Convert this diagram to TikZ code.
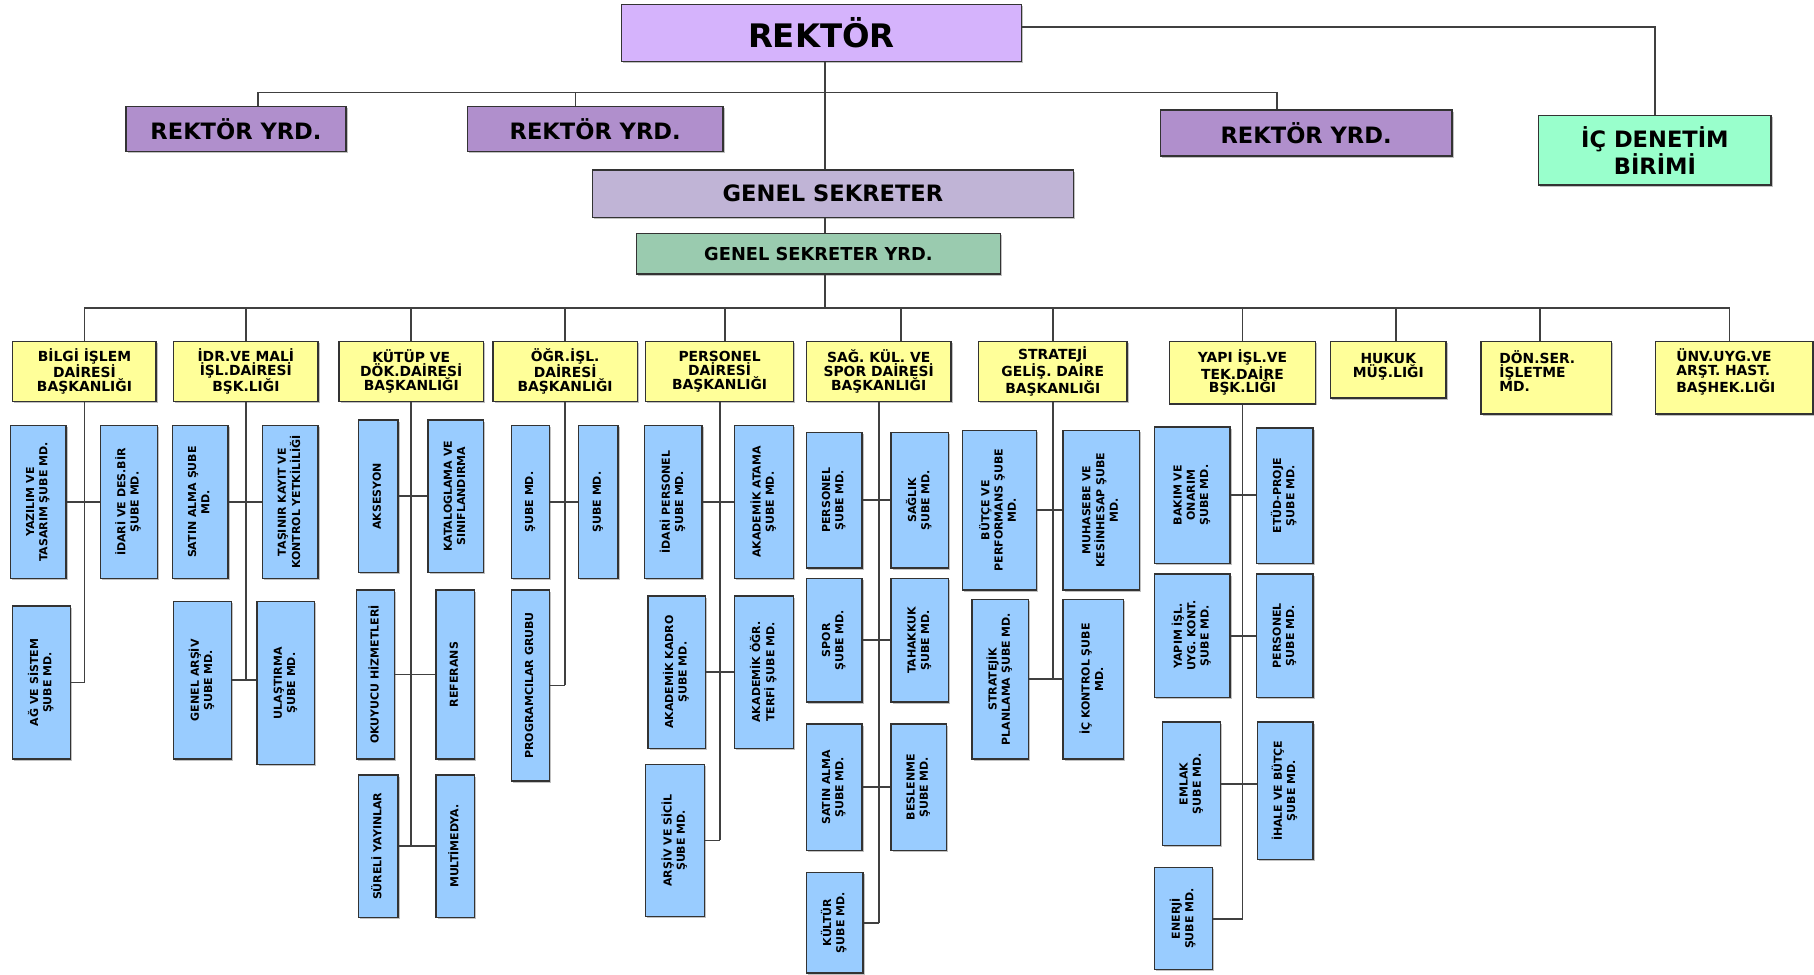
\documentclass[tikz,border=0pt]{standalone}
\usepackage{fontspec}
\setmainfont{DejaVu Sans}
\usepackage{graphicx}
\usepackage{tikz}
\usetikzlibrary{shadows}
\definecolor{rekcol}{HTML}{D5B3FC}
\definecolor{yrdcol}{HTML}{B08FCC}
\definecolor{iccol}{HTML}{99FFCC}
\definecolor{gscol}{HTML}{C0B4D6}
\definecolor{gsycol}{HTML}{9ACBAF}
\definecolor{dairecol}{HTML}{FFFF99}
\definecolor{subecol}{HTML}{99CCFF}
\newcommand{\vtext}[1]{\rotatebox{90}{\begin{tabular}{@{}c@{}}#1\end{tabular}}}

\begin{document}
\begin{tikzpicture}[x=1pt,y=-1pt,
  every node/.style={inner sep=1pt},
  box/.style={draw=black!80, line width=1.3pt, drop shadow={shadow xshift=1.5pt,shadow yshift=-1.5pt,fill=black!40,opacity=0.6}},
  ustbox/.style={box, align=center},
  dairebox/.style={box, fill=dairecol, align=center, minimum height=52pt, font=\fontsize{12}{12}\selectfont\bfseries},
  subebox/.style={box, fill=subecol, font=\fontsize{9.5}{11.5}\selectfont\bfseries},
  baglanti/.style={draw=black!75, line width=1.6pt}]
\useasboundingbox[fill=white] (0,0) rectangle (1568,842);

\node[ustbox, fill=rekcol, minimum width=346pt, minimum height=49pt, font=\fontsize{28}{30}\selectfont\bfseries] (rek) at (710,28.5) {REKTÖR};
\node[ustbox, fill=yrdcol, minimum width=190pt, minimum height=39pt, font=\fontsize{19.5}{22}\selectfont\bfseries] (ry1) at (204,111.5) {REKTÖR YRD.};
\node[ustbox, fill=yrdcol, minimum width=221pt, minimum height=39pt, font=\fontsize{19.5}{22}\selectfont\bfseries] (ry2) at (514.5,111.5) {REKTÖR YRD.};
\node[ustbox, fill=yrdcol, minimum width=252pt, minimum height=40pt, font=\fontsize{19.5}{22}\selectfont\bfseries] (ry3) at (1129,115) {REKTÖR YRD.};
\node[ustbox, fill=iccol, minimum width=201pt, minimum height=60pt, font=\fontsize{19.5}{23}\selectfont\bfseries] (ic) at (1430.5,130) {İÇ DENETİM\\BİRİMİ};
\node[ustbox, fill=gscol, minimum width=416pt, minimum height=41pt, font=\fontsize{19.5}{22}\selectfont\bfseries] (gs) at (720,167.5) {GENEL SEKRETER};
\node[ustbox, fill=gsycol, minimum width=315pt, minimum height=35pt, font=\fontsize{15.4}{18}\selectfont\bfseries] (gsy) at (707.5,219.5) {GENEL SEKRETER YRD.};

\coordinate (ybus) at (713,80);
\coordinate (bus) at (713,266);
\draw[baglanti] ([yshift=5pt]rek.east) -| (ic.north);
\draw[baglanti] (bus |- rek.south) -- (bus |- gs.north);
\draw[baglanti] (bus |- gs.south) -- (bus |- gsy.north);
\draw[baglanti] (bus |- gsy.south) -- (bus);
\draw[baglanti] ([xshift=19pt]ry1.north) -- ([xshift=19pt]ry1.north |- ybus) -| ([xshift=-25pt]ry3.north);
\draw[baglanti] ([xshift=-17pt]ry2.north) -- ([xshift=-17pt]ry2.north |- ybus);

\node[dairebox, minimum width=124pt] (d1) at (73,321) {BİLGİ İŞLEM\\DAİRESİ\\BAŞKANLIĞI};
\node[dairebox, minimum width=125pt] (d2) at (212.5,321) {İDR.VE MALİ\\İŞL.DAİRESİ\\BŞK.LIĞI};
\node[dairebox, minimum width=125pt] (d3) at (355.5,321) {KÜTÜP VE\\DÖK.DAİRESİ\\BAŞKANLIĞI};
\node[dairebox, minimum width=125pt] (d4) at (488.5,321) {ÖĞR.İŞL.\\DAİRESİ\\BAŞKANLIĞI};
\node[dairebox, minimum width=128pt] (d5) at (622,321) {PERSONEL\\DAİRESİ\\BAŞKANLIĞI};
\node[dairebox, minimum width=125pt] (d6) at (759.5,321) {SAĞ. KÜL. VE\\SPOR DAİRESİ\\BAŞKANLIĞI};
\node[dairebox, minimum width=128pt] (d7) at (910,321) {STRATEJİ\\GELİŞ. DAİRE\\BAŞKANLIĞI};
\node[dairebox, minimum width=126pt, minimum height=54pt] (d8) at (1074,322) {YAPI İŞL.VE\\TEK.DAİRE\\BŞK.LIĞI};
\node[dairebox, minimum width=100pt, minimum height=49pt, text depth=8pt] (d9) at (1200,319.5) {HUKUK\\MÜŞ.LIĞI};
\node[dairebox, align=left, text width=81pt, inner xsep=16pt, minimum height=63pt] (d10) at (1336.5,326.5) {DÖN.SER.\\İŞLETME\\MD.\\\mbox{}};
\node[dairebox, align=left, text width=100pt, inner xsep=18pt, minimum height=63pt] (d11) at (1499,326.5) {ÜNV.UYG.VE\\ARŞT. HAST.\\BAŞHEK.LIĞI\\\mbox{}};

\draw[baglanti] (d1.north |- bus) -- ([xshift=-4pt]d11.north |- bus);
\draw[baglanti] (d1.north) -- (d1.north |- bus);
\draw[baglanti] (d2.north) -- (d2.north |- bus);
\draw[baglanti] (d3.north) -- (d3.north |- bus);
\draw[baglanti] (d4.north) -- (d4.north |- bus);
\draw[baglanti] ([xshift=5pt]d5.north) -- ([xshift=5pt]d5.north |- bus);
\draw[baglanti] ([xshift=19.5pt]d6.north) -- ([xshift=19.5pt]d6.north |- bus);
\draw[baglanti] (d7.north) -- (d7.north |- bus);
\draw[baglanti] (d8.north) -- (d8.north |- bus);
\draw[baglanti] ([xshift=7pt]d9.north) -- ([xshift=7pt]d9.north |- bus);
\draw[baglanti] ([xshift=-5pt]d10.north) -- ([xshift=-5pt]d10.north |- bus);
\draw[baglanti] ([xshift=-4pt]d11.north) -- ([xshift=-4pt]d11.north |- bus);

\node[subebox, minimum width=48pt, minimum height=132pt] (s1a) at (33,434) {\vtext{YAZILIM VE\\TASARIM ŞUBE MD.}};
\node[subebox, minimum width=49pt, minimum height=132pt] (s1b) at (111.5,434) {\vtext{İDARİ VE DES.BİR\\ŞUBE MD.}};
\node[subebox, minimum width=50pt, minimum height=132pt] (s1c) at (36,590) {\vtext{AĞ VE SİSTEM\\ŞUBE MD.}};
\draw[baglanti] (d1.south) -- (d1.south |- s1c.east);
\draw[baglanti] (s1a.east) -- (s1a.east -| s1b.west);
\draw[baglanti] (s1c.east) -- (s1c.east -| d1.south);

\node[subebox, minimum width=48pt, minimum height=132pt] (s2a) at (173,434) {\vtext{SATIN ALMA ŞUBE\\MD.}};
\node[subebox, minimum width=48pt, minimum height=132pt] (s2b) at (251,434) {\vtext{TAŞINIR KAYIT VE\\KONTROL YETKİLİLİĞİ}};
\node[subebox, minimum width=50pt, minimum height=136pt] (s2c) at (175,588) {\vtext{GENEL ARŞİV\\ŞUBE MD.}};
\node[subebox, minimum width=50pt, minimum height=141pt] (s2d) at (247,590.5) {\vtext{ULAŞTIRMA\\ŞUBE MD.}};
\draw[baglanti] (d2.south) -- (d2.south |- s2c.east);
\draw[baglanti] (s2a.east) -- (s2a.east -| s2b.west);
\draw[baglanti] (s2c.east) -- (s2c.east -| s2d.west);

\node[subebox, minimum width=34pt, minimum height=132pt] (s3a) at (327,429) {\vtext{AKSESYON}};
\node[subebox, minimum width=48pt, minimum height=132pt] (s3b) at (394,429) {\vtext{KATALOGLAMA VE\\SINIFLANDIRMA}};
\node[subebox, minimum width=33pt, minimum height=146pt] (s3c) at (324.5,583) {\vtext{OKUYUCU HİZMETLERİ}};
\node[subebox, minimum width=33pt, minimum height=146pt] (s3d) at (393.5,583) {\vtext{REFERANS}};
\node[subebox, minimum width=34pt, minimum height=123pt] (s3e) at (327,731.5) {\vtext{SÜRELİ YAYINLAR}};
\node[subebox, minimum width=33pt, minimum height=123pt] (s3f) at (393.5,731.5) {\vtext{MULTİMEDYA.}};
\draw[baglanti] (d3.south) -- (d3.south |- s3e.east);
\draw[baglanti] (s3a.east) -- (s3a.east -| s3b.west);
\draw[baglanti] (s3c.east) -- (s3c.east -| s3d.west);
\draw[baglanti] (s3e.east) -- (s3e.east -| s3f.west);

\node[subebox, minimum width=33pt, minimum height=132pt] (s4a) at (458.5,434) {\vtext{ŞUBE MD.}};
\node[subebox, minimum width=34pt, minimum height=132pt] (s4b) at (517,434) {\vtext{ŞUBE MD.}};
\node[subebox, minimum width=33pt, minimum height=165pt] (s4c) at (458.5,592.5) {\vtext{PROGRAMCILAR GRUBU}};
\draw[baglanti] (d4.south) -- (d4.south |- s4c.east);
\draw[baglanti] (s4a.east) -- (s4a.east -| s4b.west);
\draw[baglanti] (s4c.east) -- (s4c.east -| d4.south);

\node[subebox, minimum width=50pt, minimum height=132pt] (s5a) at (582,434) {\vtext{İDARİ PERSONEL\\ŞUBE MD.}};
\node[subebox, minimum width=51pt, minimum height=132pt] (s5b) at (660.5,434) {\vtext{AKADEMİK ATAMA\\ŞUBE MD.}};
\node[subebox, minimum width=50pt, minimum height=132pt] (s5c) at (585,581) {\vtext{AKADEMİK KADRO\\ŞUBE MD.}};
\node[subebox, minimum width=51pt, minimum height=132pt] (s5d) at (660.5,581) {\vtext{AKADEMİK ÖĞR.\\TERFİ ŞUBE MD.}};
\node[subebox, minimum width=51pt, minimum height=131pt] (s5e) at (583.5,726.5) {\vtext{ARŞİV VE SİCİL\\ŞUBE MD.}};
\draw[baglanti] (d5.south) -- (d5.south |- s5e.east);
\draw[baglanti] (s5a.east) -- (s5a.east -| s5b.west);
\draw[baglanti] (s5c.east) -- (s5c.east -| s5d.west);
\draw[baglanti] (s5e.east) -- (s5e.east -| d5.south);

\node[subebox, minimum width=48pt, minimum height=117pt] (s6a) at (721,432.5) {\vtext{PERSONEL\\ŞUBE MD.}};
\node[subebox, minimum width=50pt, minimum height=117pt] (s6b) at (795,432.5) {\vtext{SAĞLIK\\ŞUBE MD.}};
\node[subebox, minimum width=48pt, minimum height=107pt] (s6c) at (721,553.5) {\vtext{SPOR\\ŞUBE MD.}};
\node[subebox, minimum width=50pt, minimum height=107pt] (s6d) at (795,553.5) {\vtext{TAHAKKUK\\ŞUBE MD.}};
\node[subebox, minimum width=48pt, minimum height=109pt] (s6e) at (721,680.5) {\vtext{SATIN ALMA\\ŞUBE MD.}};
\node[subebox, minimum width=48pt, minimum height=109pt] (s6f) at (794,680.5) {\vtext{BESLENME\\ŞUBE MD.}};
\node[subebox, minimum width=49pt, minimum height=87pt] (s6g) at (721.5,797.5) {\vtext{KÜLTÜR\\ŞUBE MD.}};
\draw[baglanti] (d6.south) -- (d6.south |- s6g.east);
\draw[baglanti] (s6a.east) -- (s6a.east -| s6b.west);
\draw[baglanti] (s6c.east) -- (s6c.east -| s6d.west);
\draw[baglanti] (s6e.east) -- (s6e.east -| s6f.west);
\draw[baglanti] (s6g.east) -- (s6g.east -| d6.south);

\node[subebox, minimum width=64pt, minimum height=138pt] (s7a) at (864,441) {\vtext{BÜTÇE VE\\PERFORMANS ŞUBE\\MD.}};
\node[subebox, minimum width=66pt, minimum height=138pt] (s7b) at (952,441) {\vtext{MUHASEBE VE\\KESİNHESAP ŞUBE\\MD.}};
\node[subebox, minimum width=49pt, minimum height=138pt] (s7c) at (864.5,587) {\vtext{STRATEJİK\\PLANLAMA ŞUBE MD.}};
\node[subebox, minimum width=52pt, minimum height=138pt] (s7d) at (945,587) {\vtext{İÇ KONTROL ŞUBE\\MD.}};
\draw[baglanti] (d7.south) -- (d7.south |- s7c.east);
\draw[baglanti] (s7a.east) -- (s7a.east -| s7b.west);
\draw[baglanti] (s7c.east) -- (s7c.east -| s7d.west);

\node[subebox, minimum width=65pt, minimum height=118pt] (s8a) at (1030.5,428) {\vtext{BAKIM VE\\ONARIM\\ŞUBE MD.}};
\node[subebox, minimum width=49pt, minimum height=117pt] (s8b) at (1110.5,428.5) {\vtext{ETÜD-PROJE\\ŞUBE MD.}};
\node[subebox, minimum width=65pt, minimum height=107pt] (s8c) at (1030.5,549.5) {\vtext{YAPIM İŞL.\\UYG. KONT.\\ŞUBE MD.}};
\node[subebox, minimum width=49pt, minimum height=107pt] (s8d) at (1110.5,549.5) {\vtext{PERSONEL\\ŞUBE MD.}};
\node[subebox, minimum width=50pt, minimum height=107pt] (s8e) at (1030,677.5) {\vtext{EMLAK\\ŞUBE MD.}};
\node[subebox, minimum width=48pt, minimum height=119pt] (s8f) at (1111,683.5) {\vtext{İHALE VE BÜTÇE\\ŞUBE MD.}};
\node[subebox, minimum width=50pt, minimum height=88pt] (s8g) at (1023,794) {\vtext{ENERJİ\\ŞUBE MD.}};
\draw[baglanti] (d8.south) -- (d8.south |- s8g.east);
\draw[baglanti] (s8a.east) -- (s8a.east -| s8b.west);
\draw[baglanti] (s8c.east) -- (s8c.east -| s8d.west);
\draw[baglanti] (s8e.east) -- (s8e.east -| s8f.west);
\draw[baglanti] (s8g.east) -- (s8g.east -| d8.south);
\end{tikzpicture}
\end{document}
